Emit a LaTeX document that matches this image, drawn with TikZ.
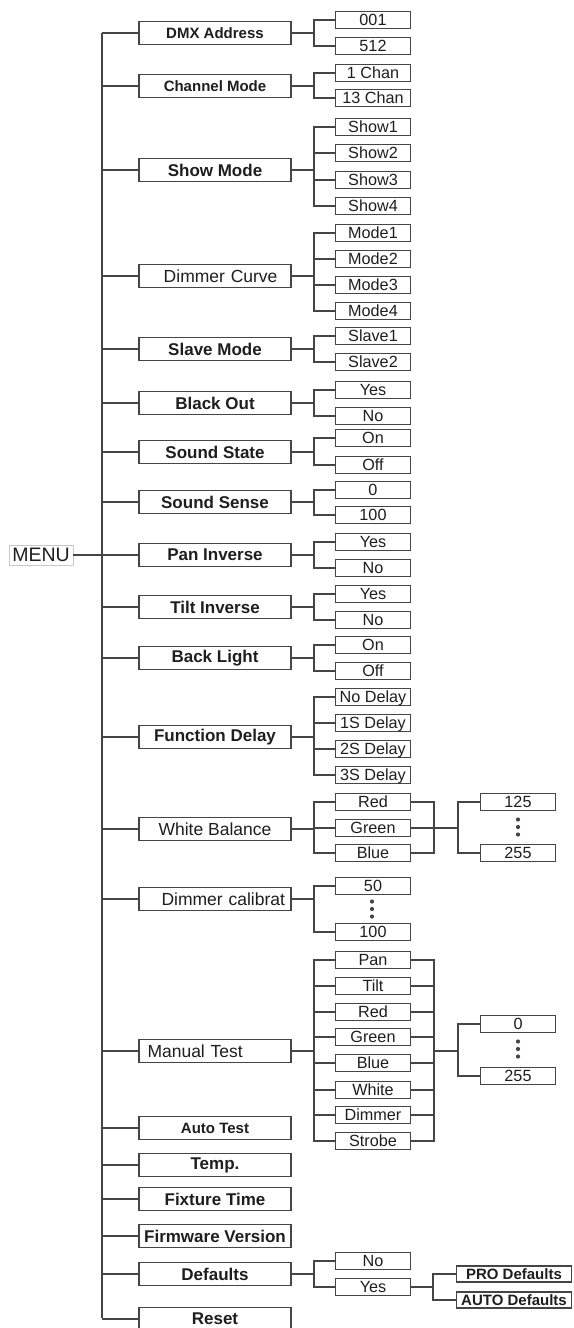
\documentclass[tikz,border=0pt]{standalone}
\usepackage{fontspec}
\setmainfont{Liberation Sans}
\usepackage{xcolor}
\usetikzlibrary{calc}
\definecolor{linegray}{HTML}{454545}
\definecolor{txtgray}{HTML}{1E1E1E}
\definecolor{menuframe}{HTML}{C8C8C8}

\begin{document}
\begin{tikzpicture}[x=1pt,y=-1pt,
  every node/.style={text=txtgray,inner sep=1pt},
  topbox/.style={draw=linegray,line width=1.7pt,minimum width=152pt,minimum height=23pt,font=\fontsize{17.5}{18}\selectfont},
  topbold/.style={topbox,font=\fontsize{17}{18}\selectfont\bfseries},
  topsmall/.style={topbox,font=\fontsize{15}{16}\selectfont\bfseries},
  subbox/.style={draw=linegray,line width=1.6pt,minimum width=75pt,minimum height=17pt,text height=11.5pt,text depth=1pt,font=\fontsize{16.2}{17}\selectfont},
  defbox/.style={subbox,minimum width=115pt,minimum height=16pt,font=\fontsize{15}{16}\selectfont\bfseries},
  conn/.style={draw=linegray,line width=1.7pt},
  dotfill/.style={fill=linegray}
]
\useasboundingbox (0,0) rectangle (573,1328);

\node[draw=menuframe,line width=0.6pt,minimum width=64pt,minimum height=20pt,font=\fontsize{19.5}{20}\selectfont] (menu) at (41,555) {MENU};
\coordinate (spinetop) at (102,33);
\coordinate (spinebot) at (102,1318);
\draw[conn] (spinetop) -- (spinebot);

% first level
\node[topsmall] (dmx) at (215,33) {DMX Address};
\node[topsmall] (chan) at (215,86) {Channel Mode};
\node[topbold] (show) at (215,170) {Show Mode};
\node[topbox,text width=125pt,align=right] (dim) at (215,276) {Dimmer Curve};
\node[topbold] (slave) at (215,349) {Slave Mode};
\node[topbold] (black) at (215,403) {Black Out};
\node[topbold] (sstate) at (215,452) {Sound State};
\node[topbold] (ssense) at (215,502) {Sound Sense};
\node[topbold] (pan) at (215,555) {Pan Inverse};
\node[topbold] (tilt) at (215,607) {Tilt Inverse};
\node[topbold] (back) at (215,658) {Back Light};
\node[topbold] (fdelay) at (215,737) {Function Delay};
\node[topbox] (wb) at (215,829) {White Balance};
\node[topbox,text width=140pt,align=right] (dcal) at (215,899) {Dimmer calibrat};
\node[topbox,text width=135pt,align=left] (mtest) at (215,1051) {Manual Test};
\node[topsmall] (auto) at (215,1128) {Auto Test};
\node[topbold] (temp) at (215,1165) {Temp.};
\node[topbold] (ftime) at (215,1199) {Fixture Time};
\node[topbold] (fw) at (215,1236) {Firmware Version};
\node[topbold] (def) at (215,1274) {Defaults};
\node[topbold] (reset) at (215,1319) {Reset};

% second level
\node[subbox] (dmx1) at (373,20) {001};
\node[subbox] (dmx2) at (373,46) {512};
\node[subbox] (chan1) at (373,73) {1 Chan};
\node[subbox] (chan2) at (373,98) {13 Chan};
\node[subbox] (show1) at (373,127) {Show1};
\node[subbox] (show2) at (373,153) {Show2};
\node[subbox] (show3) at (373,180) {Show3};
\node[subbox] (show4) at (373,206) {Show4};
\node[subbox] (dim1) at (373,233) {Mode1};
\node[subbox] (dim2) at (373,259) {Mode2};
\node[subbox] (dim3) at (373,285) {Mode3};
\node[subbox] (dim4) at (373,311) {Mode4};
\node[subbox] (slave1) at (373,336) {Slave1};
\node[subbox] (slave2) at (373,362) {Slave2};
\node[subbox] (black1) at (373,390) {Yes};
\node[subbox] (black2) at (373,416) {No};
\node[subbox] (sstate1) at (373,438) {On};
\node[subbox] (sstate2) at (373,465) {Off};
\node[subbox] (ssense1) at (373,490) {0};
\node[subbox] (ssense2) at (373,515) {100};
\node[subbox] (pan1) at (373,542) {Yes};
\node[subbox] (pan2) at (373,568) {No};
\node[subbox] (tilt1) at (373,594) {Yes};
\node[subbox] (tilt2) at (373,620) {No};
\node[subbox] (back1) at (373,645) {On};
\node[subbox] (back2) at (373,671) {Off};
\node[subbox] (fd1) at (373,697) {No Delay};
\node[subbox] (fd2) at (373,723) {1S Delay};
\node[subbox] (fd3) at (373,749) {2S Delay};
\node[subbox] (fd4) at (373,775) {3S Delay};
\node[subbox] (wb1) at (373,802) {Red};
\node[subbox] (wb2) at (373,828) {Green};
\node[subbox] (wb3) at (373,853) {Blue};
\node[subbox] (dcal1) at (373,886) {50};
\node[subbox] (dcal2) at (373,932) {100};
\node[subbox] (mt1) at (373,960) {Pan};
\node[subbox] (mt2) at (373,986) {Tilt};
\node[subbox] (mt3) at (373,1012) {Red};
\node[subbox] (mt4) at (373,1037) {Green};
\node[subbox] (mt5) at (373,1063) {Blue};
\node[subbox] (mt6) at (373,1090) {White};
\node[subbox] (mt7) at (373,1115) {Dimmer};
\node[subbox] (mt8) at (373,1141) {Strobe};
\node[subbox] (def1) at (373,1261) {No};
\node[subbox] (def2) at (373,1287) {Yes};

% third level
\node[subbox] (wbA) at (518,802) {125};
\node[subbox] (wbB) at (518,853) {255};
\node[subbox] (mtA) at (518,1024) {0};
\node[subbox] (mtB) at (518,1076) {255};
\node[defbox] (defA) at (514,1274) {PRO Defaults};
\node[defbox] (defB) at (514,1300) {AUTO Defaults};

% spine branches
\draw[conn] (menu.east) -- (menu.east -| spinetop);
\foreach \p in {dmx,chan,show,dim,slave,black,sstate,ssense,pan,tilt,back,fdelay,wb,dcal,mtest,auto,temp,ftime,fw,def,reset}
  \draw[conn] (\p.west) -- (\p.west -| spinetop);

% first to second level
\foreach \p/\kids in {dmx/{dmx1,dmx2},chan/{chan1,chan2},show/{show1,show2,show3,show4},
    dim/{dim1,dim2,dim3,dim4},slave/{slave1,slave2},black/{black1,black2},
    sstate/{sstate1,sstate2},ssense/{ssense1,ssense2},pan/{pan1,pan2},tilt/{tilt1,tilt2},
    back/{back1,back2},fdelay/{fd1,fd2,fd3,fd4},wb/{wb1,wb2,wb3},dcal/{dcal1,dcal2},
    mtest/{mt1,mt2,mt3,mt4,mt5,mt6,mt7,mt8},def/{def1,def2}}{
  \draw[conn] (\p.east) -- ++(22,0) coordinate (\p-j);
  \foreach \k in \kids
    \draw[conn] (\p-j) |- (\k.west);
}

% second to third level
\coordinate (wb-r) at ($(wb2.east)+(23,0)$);
\foreach \k in {wb1,wb2,wb3}
  \draw[conn] (\k.east) -| (wb-r);
\draw[conn] (wb-r) -- ++(24,0) coordinate (wb-s);
\foreach \k in {wbA,wbB}
  \draw[conn] (wb-s) |- (\k.west);

\coordinate (mt-r) at ($(mtest -| mt1.east)+(23,0)$);
\foreach \k in {mt1,mt2,mt3,mt4,mt5,mt6,mt7,mt8}
  \draw[conn] (\k.east) -| (mt-r);
\draw[conn] (mt-r) -- ++(24,0) coordinate (mt-s);
\foreach \k in {mtA,mtB}
  \draw[conn] (mt-s) |- (\k.west);

\draw[conn] (def2.east) -- ++(22,0) coordinate (def-s);
\foreach \k in {defA,defB}
  \draw[conn] (def-s) |- (\k.west);

% vertical dots
\foreach \cx/\cy in {518/827,372/909,518/1049}
  \foreach \d in {-7.5,0,7.5}
    \fill[dotfill] (\cx,{\cy+\d}) circle (2.1pt);
\end{tikzpicture}
\end{document}
